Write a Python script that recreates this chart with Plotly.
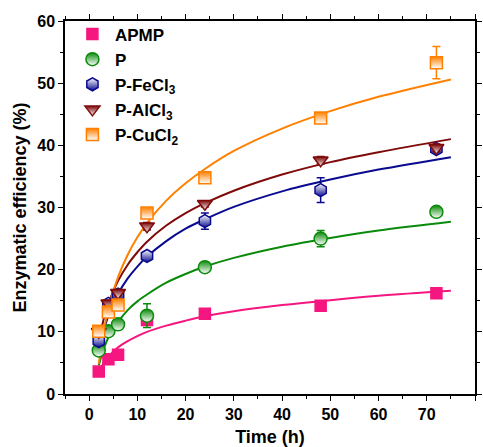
import plotly.graph_objects as go

# ---- data ----
time_h = [2, 4, 6, 12, 24, 48, 72]

apmp = [3.6, 5.6, 6.3, 11.9, 12.9, 14.2, 16.2]
apmp_err = [0.3, 0.3, 0.3, 0.3, 0.4, 0.8, 0.4]
p = [7.0, 10.1, 11.2, 12.6, 20.4, 25.0, 29.3]
p_err = [0.6, 0.5, 0.5, 1.9, 0.6, 1.3, 0.4]
fecl3 = [8.5, 14.5, 16.0, 22.2, 27.8, 32.8, 39.4]
fecl3_err = [0.5, 0.5, 0.5, 0.5, 1.3, 2.0, 0.5]
alcl3 = [10.0, 14.6, 16.3, 27.0, 30.6, 37.6, 39.6]
alcl3_err = [0.5, 0.5, 0.5, 0.6, 0.5, 0.6, 0.6]
cucl2 = [10.1, 13.2, 14.3, 29.1, 34.8, 44.4, 53.3]
cucl2_err = [0.5, 0.5, 0.5, 0.5, 0.5, 0.6, 2.6]

# fitted curves
fit_x = [2, 3, 4, 6, 8, 10, 12, 16, 20, 24, 30, 40, 50, 60, 75]
fit_apmp = [3.5, 5.0, 6.0, 7.5, 8.5, 9.3, 10.0, 11.0, 11.8, 12.5, 13.3, 14.3, 15.1, 15.8, 16.6]
fit_p = [4.6, 7.2, 9.1, 11.6, 13.5, 14.9, 16.0, 17.9, 19.3, 20.5, 21.9, 23.7, 25.1, 26.3, 27.7]
fit_fecl3 = [6.5, 10.1, 12.6, 16.1, 18.6, 20.5, 22.1, 24.6, 26.6, 28.1, 30.1, 32.6, 34.5, 36.1, 38.1]
fit_alcl3 = [8.3, 12.0, 14.6, 18.2, 20.8, 22.8, 24.5, 27.1, 29.1, 30.7, 32.7, 35.3, 37.3, 38.9, 41.0]
fit_cucl2 = [4.9, 10.0, 13.7, 18.8, 22.4, 25.2, 27.5, 31.1, 33.9, 36.2, 39.1, 42.7, 45.5, 47.8, 50.6]

x_ticks = [0, 10, 20, 30, 40, 50, 60, 70, 80]
y_ticks = [0, 10, 20, 30, 40, 50, 60]

series = [
    ("APMP", apmp, apmp_err, fit_apmp, "#F5167F", "square", None, 11),
    ("P", p, p_err, fit_p, "#0A8A0A", "circle", "vertical", 13),
    ("P-FeCl<sub>3</sub>", fecl3, fecl3_err, fit_fecl3, "#0A0A8F", "hexagon", "vertical_inv", 13),
    ("P-AlCl<sub>3</sub>", alcl3, alcl3_err, fit_alcl3, "#7F0A0A", "triangle-down", "vertical", 13),
    ("P-CuCl<sub>2</sub>", cucl2, cucl2_err, fit_cucl2, "#FF8000", "square", "vertical", 12),
]

fig = go.Figure()

# curves first (under the markers)
for name, ys, errs, fit, col, sym, grad, size in series:
    fig.add_trace(go.Scatter(
        x=fit_x, y=fit, mode="lines", line=dict(color=col, width=2, shape="spline"),
        showlegend=False, hoverinfo="skip"))

for name, ys, errs, fit, col, sym, grad, size in series:
    marker = dict(symbol=sym, size=size, color=col, line=dict(color=col, width=1.5))
    if grad == "vertical":
        marker["gradient"] = dict(type="vertical", color="white")
    elif grad == "vertical_inv":
        marker["color"] = "white"
        marker["gradient"] = dict(type="vertical", color=col)
    fig.add_trace(go.Scatter(
        x=time_h, y=ys, mode="markers", name=name, marker=marker,
        error_y=dict(type="data", array=errs, visible=True, color=col, thickness=1.5, width=4)))

font_family = "Arial, Liberation Sans, sans-serif"
axis_common = dict(
    showline=True, linecolor="black", linewidth=1.5, mirror="allticks",
    ticks="outside", ticklen=5, tickwidth=1.2, tickcolor="black",
    showgrid=False, zeroline=False, automargin=False,
    tickfont=dict(family=font_family, size=16, color="black", weight="bold"),
    minor=dict(ticks="outside", ticklen=3, tickwidth=1, tickcolor="black", dtick=5),
)

fig.update_xaxes(range=[-5, 80], tickvals=x_ticks, ticktext=[str(v) for v in x_ticks],
                 title=dict(text="<b>Time (h)</b>", font=dict(family=font_family, size=18, color="black"), standoff=16),
                 **axis_common)
fig.update_yaxes(range=[0, 60], tickvals=y_ticks, ticktext=[str(v) for v in y_ticks],
                 title=dict(text="<b>Enzymatic efficiency (%)</b>", font=dict(family=font_family, size=18, color="black"), standoff=6),
                 **axis_common)

fig.update_layout(
    width=483, height=447,
    margin=dict(l=65, r=8, t=21, b=53),
    paper_bgcolor="white", plot_bgcolor="white",
    font=dict(family=font_family, color="black"),
    legend=dict(x=0.012, y=1.012, xanchor="left", yanchor="top",
                bgcolor="rgba(0,0,0,0)", font=dict(family=font_family, size=17, color="black", weight="bold"),
                tracegroupgap=0, itemwidth=35),
)

fig.write_html("out.html")
